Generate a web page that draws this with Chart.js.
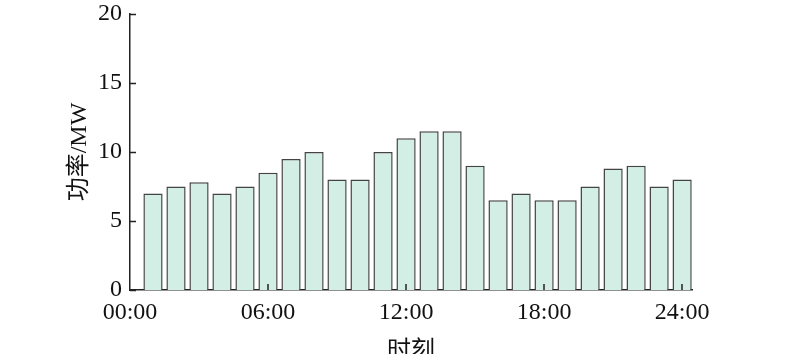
<!DOCTYPE html>
<html>
<head>
<meta charset="utf-8">
<script src="https://cdn.jsdelivr.net/npm/chart.js@4"></script>
<style>
  html, body { margin: 0; padding: 0; background: #fff; }
  #wrap { width: 800px; height: 354px; }
</style>
</head>
<body>
<div id="wrap"><canvas id="chart" width="800" height="354"></canvas></div>
<script>
// 数据
const hours = [1, 2, 3, 4, 5, 6, 7, 8, 9, 10, 11, 12, 13, 14, 15, 16, 17, 18, 19, 20, 21, 22, 23, 24];
const power = [7, 7.5, 7.8, 7, 7.5, 8.5, 9.5, 10, 8, 8, 10, 11, 11.5, 11.5, 9, 6.5, 7, 6.5, 6.5, 7.5, 8.8, 9, 7.5, 8];
const xTickValues = [0, 6, 12, 18, 24];
const xTickLabels = ['00:00', '06:00', '12:00', '18:00', '24:00'];
const yTickValues = [0, 5, 10, 15, 20];

const serif = '"Liberation Serif", "Times New Roman", "Noto Sans CJK SC", serif';

// ticks pointing inward, drawn on top of the bars
const innerTicks = {
    id: 'innerTicks',
    afterDatasetsDraw(chart) {
        const { ctx, scales: { x, y } } = chart;
        ctx.save();
        ctx.strokeStyle = '#222';
        ctx.lineWidth = 1.5;
        ctx.beginPath();
        yTickValues.forEach(v => {
            const py = Math.round(y.getPixelForValue(v)) + 0.5;
            ctx.moveTo(x.left, py);
            ctx.lineTo(x.left + 6, py);
        });
        xTickValues.forEach(v => {
            if (v === 0) return;
            const px = Math.round(x.getPixelForValue(v));
            ctx.moveTo(px, y.bottom);
            ctx.lineTo(px, y.bottom - 6);
        });
        ctx.stroke();
        ctx.restore();
    }
};

new Chart(document.getElementById('chart'), {
    type: 'bar',
    data: {
        datasets: [{
            data: hours.map((h, i) => ({ x: h, y: power[i] })),
            backgroundColor: '#d3efe5',
            borderColor: '#444',
            borderWidth: 1.5,
            barPercentage: 0.95,
            categoryPercentage: 0.88
        }]
    },
    options: {
        responsive: false,
        animation: false,
        layout: { padding: { left: 0, top: 0, right: 108, bottom: 0 } },
        plugins: { legend: { display: false }, tooltip: { enabled: false } },
        scales: {
            x: {
                type: 'linear',
                offset: false,
                min: 0,
                max: 24.43,
                grid: { display: false, drawTicks: false, offset: false },
                border: { display: true, color: '#222', width: 1.5 },
                afterBuildTicks: (s) => { s.ticks = xTickValues.map(v => ({ value: v })); },
                ticks: {
                    autoSkip: false,
                    maxRotation: 0,
                    padding: 8,
                    color: '#111',
                    font: { family: serif, size: 24 },
                    callback: (v) => xTickLabels[xTickValues.indexOf(v)]
                },
                title: {
                    display: true,
                    text: '时刻',
                    color: '#111',
                    font: { family: serif, size: 24, lineHeight: 1 },
                    padding: { top: 0, bottom: -10 }
                },
                afterFit: (s) => { s.height = 64; }
            },
            y: {
                min: 0,
                max: 20,
                grid: { display: false, drawTicks: false },
                border: { display: true, color: '#222', width: 1.5 },
                afterBuildTicks: (s) => { s.ticks = yTickValues.map(v => ({ value: v })); },
                ticks: {
                    padding: 8,
                    color: '#111',
                    font: { family: serif, size: 24 }
                },
                title: {
                    display: true,
                    text: '功率/MW',
                    color: '#111',
                    font: { family: serif, size: 24, lineHeight: 1 },
                    padding: { top: 68, bottom: 0 }
                },
                afterFit: (s) => { s.width = 130; s.paddingTop = 14; }
            }
        }
    },
    plugins: [innerTicks]
});
</script>
</body>
</html>
